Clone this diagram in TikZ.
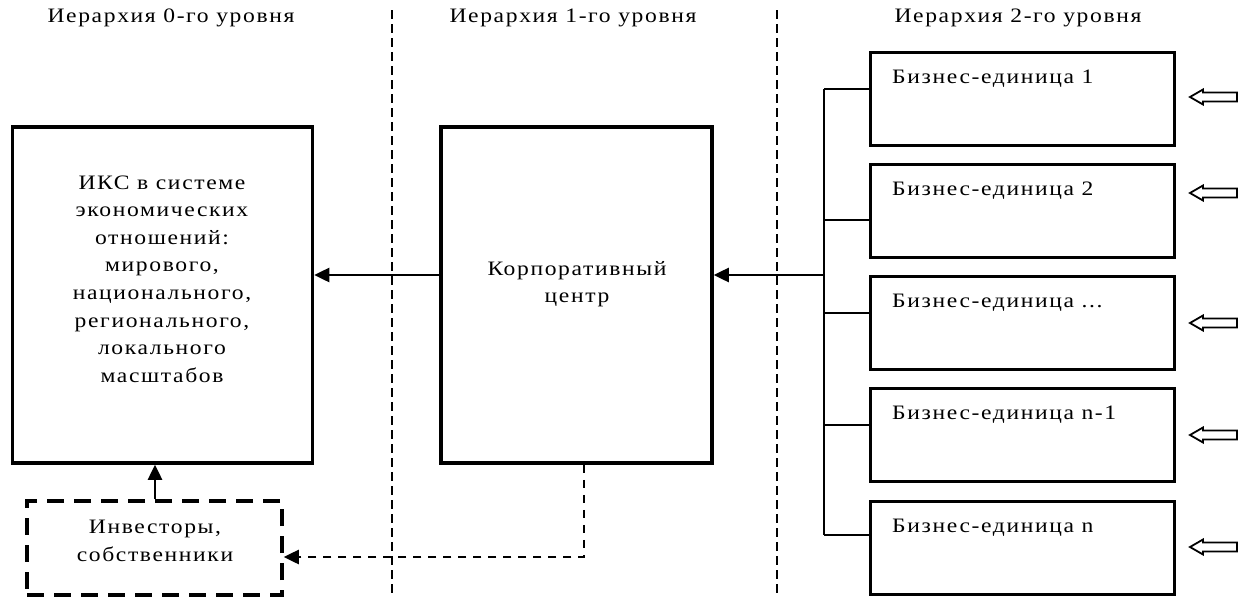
\documentclass[tikz,border=0pt]{standalone}
\usepackage{fontspec}
\setmainfont[FakeStretch=1.15,LetterSpace=8]{Liberation Serif}
\usetikzlibrary{arrows.meta}
\begin{document}
\begin{tikzpicture}[x=1pt,y=-1pt,
  font=\fontsize{20.5pt}{27.6pt}\selectfont,
  bigbox/.style={draw,line width=3.5pt,minimum width=300pt,minimum height=336pt,inner sep=0pt},
  corpbox/.style={draw,line width=3.5pt,minimum width=271pt,minimum height=336pt,inner sep=0pt},
  unitbox/.style={draw,line width=3pt,minimum width=304pt,minimum height=93pt,inner sep=0pt},
  invbox/.style={draw,line width=3.5pt,dash pattern=on 17pt off 10pt,minimum width=255pt,minimum height=94pt,inner sep=0pt},
  txt/.style={inner sep=0pt,align=center},
  utxt/.style={inner sep=0pt,anchor=west},
  sep/.style={line width=2.2pt,dash pattern=on 9pt off 5pt},
  bus/.style={line width=1.4pt},
  mainarr/.style={line width=2.5pt,-{Triangle[length=15pt,width=14pt]}},
  dasharr/.style={line width=2.5pt,dash pattern=on 8pt off 7pt,-{Triangle[length=15pt,width=14pt]}},
  hollow/.style={draw,line width=1.8pt,fill=white}
]
\useasboundingbox (0,0) rectangle (1243,597);
% headers
\node[txt] (h0) at (171,18) {Иерархия 0-го уровня};
\node[txt] (h1) at (573,18) {Иерархия 1-го уровня};
\node[txt] (h2) at (1018,18) {Иерархия 2-го уровня};
% separators
\coordinate (s1t) at (392,10); \coordinate (s1b) at (392,597);
\coordinate (s2t) at (777,10); \coordinate (s2b) at (777,597);
\draw[sep] (s1t) -- (s1b);
\draw[sep] (s2t) -- (s2b);
% main boxes
\node[bigbox] (iks) at (162.5,295) {};
\node[txt] (iksT) at (162,279) {ИКС в системе\\экономических\\отношений:\\мирового,\\национального,\\регионального,\\локального\\масштабов};
\node[corpbox] (corp) at (576.5,295) {};
\node[txt] (corpT) at (577,284) {Корпоративный\\центр};
% business units
\node[unitbox] (b1) at (1022,98.5) {};
\node[unitbox] (b2) at (1022,210.5) {};
\node[unitbox] (b3) at (1022,323) {};
\node[unitbox] (b4) at (1022,434.5) {};
\node[unitbox] (b5) at (1022,547.5) {};
\node[utxt] (t1) at (892,79) {Бизнес-единица 1};
\node[utxt] (t2) at (892,191) {Бизнес-единица 2};
\node[utxt] (t3) at (892,303) {Бизнес-единица ...};
\node[utxt] (t4) at (892,415) {Бизнес-единица n-1};
\node[utxt] (t5) at (892,528) {Бизнес-единица n};
% bus
\coordinate (c1) at (824,89);
\coordinate (c2) at (824,220);
\coordinate (c3) at (824,313);
\coordinate (c4) at (824,425);
\coordinate (c5) at (824,535);
\coordinate (cm) at (824,275);
\draw[bus] (c1) -- (c5);
\draw[bus] (c1) -- (c1 -| b1.west);
\draw[bus] (c2) -- (c2 -| b2.west);
\draw[bus] (c3) -- (c3 -| b3.west);
\draw[bus] (c4) -- (c4 -| b4.west);
\draw[bus] (c5) -- (c5 -| b5.west);
% main arrows
\draw[mainarr] (cm) -- (cm -| corp.east);
\draw[mainarr] (cm -| corp.west) -- (cm -| iks.east);
% investors
\node[invbox] (inv) at (154.5,548) {};
\node[txt] (invT) at (155,541) {Инвесторы,\\собственники};
\draw[mainarr] (inv.north -| 155,0) -- (iks.south -| 155,0);
\coordinate (d1) at (584,557);
\draw[dasharr] (corp.south -| d1) -- (d1) -- (d1 -| inv.east);
% hollow arrows
\foreach \y/\n in {97/a1,193/a2,323/a3,435/a4,547/a5}{
  \draw[hollow] (1190,\y) -- (1203,\y-7.5) -- (1203,\y-4.5) -- (1237,\y-4.5) -- (1237,\y+4.5) -- (1203,\y+4.5) -- (1203,\y+7.5) -- cycle;
}
\end{tikzpicture}
\end{document}
